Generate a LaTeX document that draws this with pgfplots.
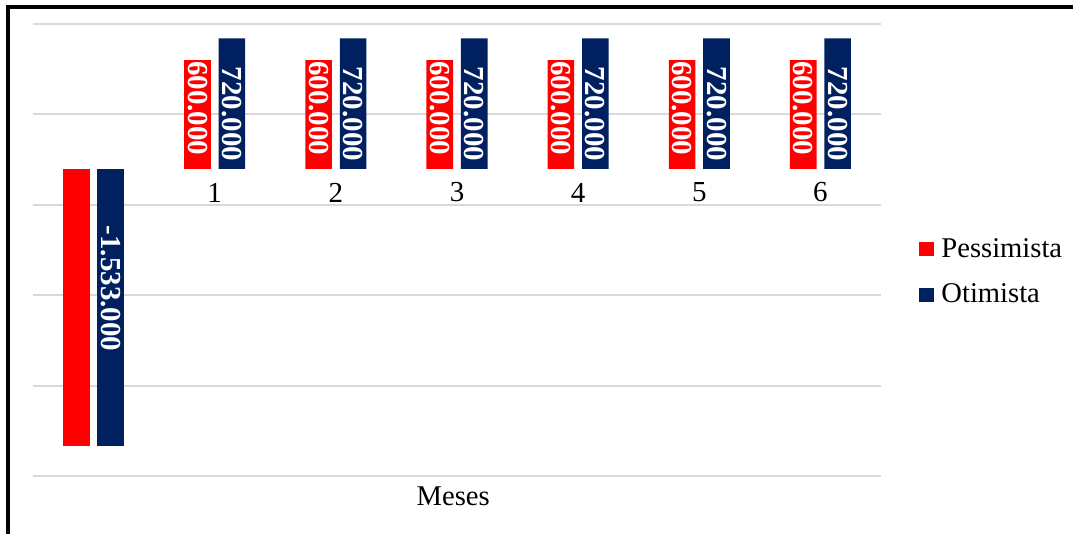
\documentclass[border=0pt]{standalone}
\usepackage{pgfplots}
\pgfplotsset{compat=1.18}
\usepackage{fontspec}
\setmainfont{Liberation Serif}
\definecolor{pess}{HTML}{FF0000}
\definecolor{otim}{HTML}{002060}
\definecolor{gridc}{HTML}{D9D9D9}
\begin{document}
\begin{tikzpicture}
\useasboundingbox (0,0) rectangle (536.5pt,267pt);
\begin{axis}[
  at={(16.5pt,28.75pt)}, anchor=south west,
  scale only axis, width=424pt, height=226.25pt,
  xmin=-0.5, xmax=6.5, ymin=-1700000, ymax=800000,
  axis line style={draw=none},
  major tick length=0pt,
  ytick={-1700000,-1200000,-700000,-200000,300000,800000},
  yticklabels={}, scaled y ticks=false,
  ymajorgrids, grid style={gridc, line width=1pt},
  xtick={1,2,3,4,5,6}, xticklabels={1,2,3,4,5,6},
  xticklabel style={anchor=center, yshift=142pt, font=\fontsize{14.5pt}{17pt}\selectfont},
  xlabel={Meses},
  x label style={at={(axis description cs:0.4956,0)}, anchor=center, yshift=-10.1pt, font=\fontsize{14.3pt}{17pt}\selectfont},
  clip=false,
  legend style={at={(axis description cs:1,0.454)}, anchor=west, xshift=19pt, yshift=-0.5pt, draw=none, fill=none, inner sep=0pt,
    font=\fontsize{14.3pt}{17pt}\selectfont, row sep=8pt,
    /tikz/every odd column/.append style={column sep=1.5pt}},
  legend cell align=left,
  every node near coord/.append style={text=white, inner sep=0pt, font=\fontsize{14.5pt}{17pt}\selectfont\bfseries},
]
\addplot[ybar, bar width=13.3pt, bar shift=-8.6pt, fill=pess, draw=none,
  legend image code/.code={\fill[pess] (0pt,-3.5pt) rectangle (7.5pt,3.5pt);},
  point meta=explicit symbolic, nodes near coords={\pgfplotspointmeta},
  every node near coord/.append style={anchor=center, xshift=-8.6pt, yshift=-24pt, rotate=-90}]
  coordinates {(1,600000) [600.000] (2,600000) [600.000] (3,600000) [600.000] (4,600000) [600.000] (5,600000) [600.000] (6,600000) [600.000]};
\addlegendentry{Pessimista}
\addplot[ybar, bar width=13.3pt, bar shift=8.6pt, fill=otim, draw=none,
  legend image code/.code={\fill[otim] (0pt,-3.5pt) rectangle (7.5pt,3.5pt);},
  point meta=explicit symbolic, nodes near coords={\pgfplotspointmeta},
  every node near coord/.append style={anchor=center, xshift=8.6pt, yshift=-37.75pt, rotate=-90}]
  coordinates {(1,720000) [720.000] (2,720000) [720.000] (3,720000) [720.000] (4,720000) [720.000] (5,720000) [720.000] (6,720000) [720.000]};
\addlegendentry{Otimista}
\addplot[ybar, bar width=13.3pt, bar shift=-8.6pt, fill=pess, draw=none, forget plot]
  coordinates {(0,-1533000)};
\addplot[ybar, bar width=13.3pt, bar shift=8.6pt, fill=otim, draw=none, forget plot,
  point meta=explicit symbolic, nodes near coords={\pgfplotspointmeta},
  every node near coord/.append style={anchor=center, xshift=8.6pt, yshift=78.9pt, rotate=-90}]
  coordinates {(0,-1533000) [-1.533.000]};
\end{axis}
\draw[line width=2pt, line join=miter] (4pt,0pt) -- (4pt,263.5pt) -- (536.5pt,263.5pt);
\end{tikzpicture}
\end{document}
